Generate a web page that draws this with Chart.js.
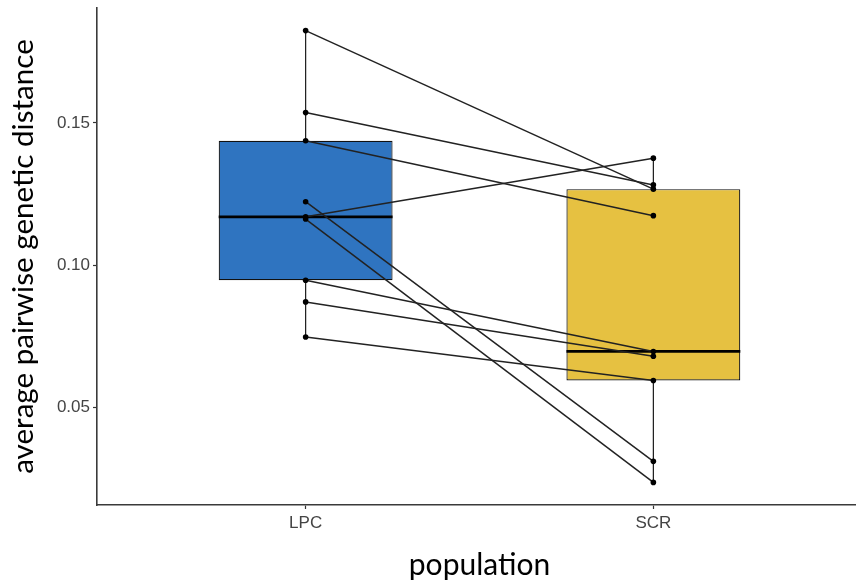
<!DOCTYPE html>
<html><head><meta charset="utf-8">
<script src="https://cdn.jsdelivr.net/npm/chart.js@4.4.1/dist/chart.umd.min.js"></script>
<style>
html,body{margin:0;padding:0;overflow:hidden;background:#fff;width:856px;height:582px}
#wrap{position:relative;width:866px;height:582px}
</style></head>
<body><div id="wrap"><canvas id="c" width="866" height="582"></canvas></div>
<script>
// ---- data ----
const categories = ['LPC', 'SCR'];
// paired observations (same index = same pair)
const lpcValues = [0.1824, 0.1536, 0.1437, 0.1223, 0.1170, 0.1162, 0.0947, 0.0871, 0.0748];
const scrValues = [0.1267, 0.1282, 0.1174, 0.0311, 0.1376, 0.0237, 0.0697, 0.0680, 0.0595];
const yTickValues = [0.05, 0.10, 0.15];
const yTitle = 'average pairwise genetic distance';
const xTitle = 'population';

// ---- styles ----
const boxColors = ['#2F74C0', '#E6C141'];
const BOX_WIDTH = 0.5;       // in category units
const TITLE_FONT = 'Lato, "Open Sans", sans-serif';
const TICK_FONT = '"Liberation Sans", Arial, sans-serif';

function quantile(arr, p) {
  const s = [...arr].sort((a, b) => a - b);
  const h = (s.length - 1) * p;
  const lo = Math.floor(h), hi = Math.ceil(h);
  return s[lo] + (s[hi] - s[lo]) * (h - lo);
}
const groups = [lpcValues, scrValues];
const stats = groups.map(g => ({
  min: Math.min(...g), max: Math.max(...g),
  q1: quantile(g, 0.25), med: quantile(g, 0.5), q3: quantile(g, 0.75)
}));

const all = lpcValues.concat(scrValues);
const dMin = Math.min(...all), dMax = Math.max(...all);
const pad = (dMax - dMin) * 0.05;

const datasets = [];
// whiskers (drawn behind boxes)
stats.forEach((s, i) => {
  datasets.push({
    type: 'line', order: 5,
    data: [{x: i + 1, y: s.min}, {x: i + 1, y: s.max}],
    borderColor: '#1a1a1a', borderWidth: 1.2, pointRadius: 0, fill: false
  });
});
// boxes
datasets.push({
  type: 'bar', order: 4,
  data: stats.map((s, i) => ({x: i + 1, y: [s.q1, s.q3]})),
  backgroundColor: boxColors, borderColor: '#111', borderWidth: 1.2,
  borderSkipped: false, barPercentage: BOX_WIDTH, categoryPercentage: 1
});
// medians
stats.forEach((s, i) => {
  datasets.push({
    type: 'line', order: 3,
    data: [{x: i + 1 - BOX_WIDTH / 2, y: s.med}, {x: i + 1 + BOX_WIDTH / 2, y: s.med}],
    borderColor: '#000', borderWidth: 2.8, pointRadius: 0, fill: false
  });
});
// paired lines with points
lpcValues.forEach((v, i) => {
  datasets.push({
    type: 'line', order: 1,
    data: [{x: 1, y: v}, {x: 2, y: scrValues[i]}],
    borderColor: '#222', borderWidth: 1.5,
    pointRadius: 2.8, pointBackgroundColor: '#000', pointBorderWidth: 0,
    fill: false
  });
});

new Chart(document.getElementById('c'), {
  type: 'line',
  data: { datasets },
  options: {
    responsive: false, animation: false,
    layout: { padding: { top: 8, right: 2, left: 0, bottom: 0 } },
    plugins: { legend: { display: false }, tooltip: { enabled: false } },
    scales: {
      x: {
        type: 'linear', min: 0.4, max: 2.6, offset: false,
        afterBuildTicks: sc => { sc.ticks = categories.map((c, i) => ({ value: i + 1 })); },
        afterFit: sc => { sc.height = 77; sc.paddingLeft = 0; sc.paddingRight = 0; },
        ticks: {
          callback: v => categories[v - 1] || '',
          font: { family: TICK_FONT, size: 17 }, color: '#444', padding: 4,
          maxRotation: 0, autoSkip: false
        },
        grid: { display: true, offset: false, drawOnChartArea: false, tickLength: 4, color: '#333', tickWidth: 1.2 },
        border: { display: true, color: '#3a3a3a', width: 1.6 },
        title: {
          display: true, text: xTitle, color: '#000',
          font: { family: TITLE_FONT, size: 30, lineHeight: 1 },
          padding: { top: 0, bottom: 1.5 }
        }
      },
      y: {
        type: 'linear', min: dMin - pad, max: dMax + pad, beginAtZero: false,
        afterBuildTicks: sc => { sc.ticks = yTickValues.map(v => ({ value: v })); },
        afterFit: sc => { sc.width = 97; sc.paddingTop = 0; sc.paddingBottom = 0; },
        ticks: {
          callback: v => v.toFixed(2),
          font: { family: TICK_FONT, size: 17 }, color: '#444', padding: 3
        },
        grid: { display: true, offset: false, drawOnChartArea: false, tickLength: 4, color: '#333', tickWidth: 1.2 },
        border: { display: true, color: '#3a3a3a', width: 1.6 },
        title: {
          display: true, text: yTitle, color: '#000',
          font: { family: TITLE_FONT, size: 29.6, lineHeight: 1.2 },
          padding: { top: 6, bottom: 0 }
        }
      }
    }
  }
});
</script>
</body></html>
